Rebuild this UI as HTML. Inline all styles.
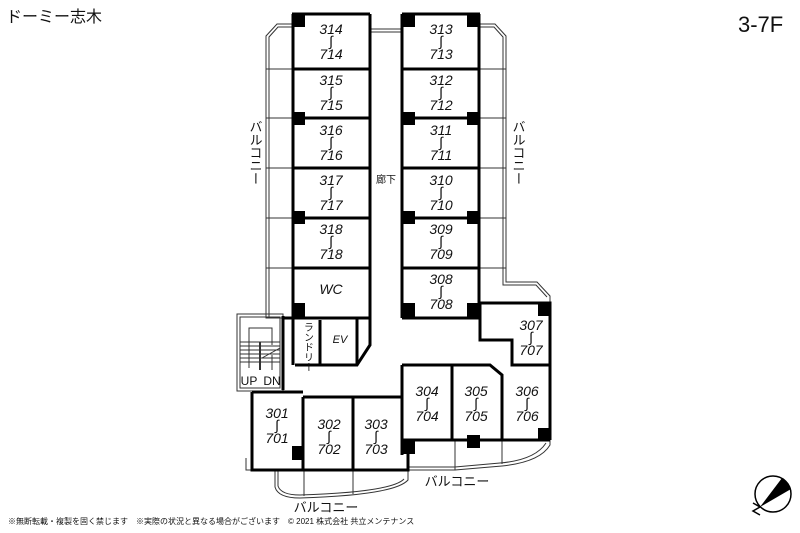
<!DOCTYPE html>
<html><head><meta charset="utf-8"><style>
html,body{margin:0;padding:0;background:#fff;}
svg{display:block;}
text{font-family:"Liberation Sans","Noto Sans CJK JP",sans-serif;fill:#111;}
.n{font-size:14px;font-style:italic;text-anchor:middle;}
.t{font-size:11px;text-anchor:middle;}
</style></head><body>
<svg width="800" height="533" viewBox="0 0 800 533" xmlns="http://www.w3.org/2000/svg">
<text x="6" y="22" style="font-size:16px">ドーミー志木</text>
<text x="738" y="32" style="font-size:22px">3-7F</text>

<g fill="none" stroke="#333" stroke-width="1">
<path d="M370 29 L402 29 M370 32 L402 32"/>
<!-- left balcony -->
<path d="M292 24 L277 24 L266 36 L266 318 L292 318"/>
<path d="M292 27 L278 27 L269 37 L269 318"/>
<line x1="266" y1="69" x2="292" y2="69"/><line x1="266" y1="118" x2="292" y2="118"/>
<line x1="266" y1="168" x2="292" y2="168"/><line x1="266" y1="218" x2="292" y2="218"/>
<line x1="266" y1="268" x2="292" y2="268"/>
<!-- right balcony -->
<path d="M480 24 L495 24 L506 36 L506 282 L537 282 L550 296 L550 303"/>
<path d="M480 27 L494 27 L503 37 L503 285 L536 285 L547 297"/>
<line x1="480" y1="69" x2="506" y2="69"/><line x1="480" y1="118" x2="506" y2="118"/>
<line x1="480" y1="168" x2="506" y2="168"/><line x1="480" y1="218" x2="506" y2="218"/>
<line x1="480" y1="268" x2="506" y2="268"/>
<!-- stairs -->
<rect x="237" y="314" width="46" height="77" />
<rect x="240" y="317" width="40" height="71" />
<path d="M249 368 L249 328 L272 328 L272 345"/>
<path d="M240 342 L280 342 M240 346 L280 346 M240 350 L280 350 M240 354 L280 354 M240 358 L280 358 M240 362 L280 362"/>
<line x1="260" y1="342" x2="260" y2="370" stroke-width="2"/>
<line x1="262" y1="358" x2="280" y2="348"/>
<line x1="272" y1="355" x2="272" y2="370"/>
<!-- bottom balconies -->
<path d="M275 470 L275 487 Q278 498 300 498 Q395 495 408 480 L408 470"/>
<path d="M278 470 L278 486 Q281 495 300 495 Q392 492 404 479"/>
<line x1="304" y1="470" x2="304" y2="496"/><line x1="353" y1="470" x2="353" y2="494"/>
<path d="M408 464 L408 470 L455 470 L455 464 M455 470 L502 466 Q540 462 550 445 L550 440"/>
<path d="M408 467 L455 467 M455 467 L500 463 Q535 460 546 443"/>
<line x1="502" y1="440" x2="502" y2="464"/><line x1="455" y1="440" x2="455" y2="467"/>
<path d="M246 458 L246 470 L268 470"/>
</g>

<!-- walls -->
<g fill="none" stroke="#000" stroke-width="3">
<path d="M292 14 L370 14 M402 14 L480 14"/>
<line x1="370" y1="14" x2="370" y2="318"/>
<line x1="402" y1="14" x2="402" y2="318"/>
<line x1="293" y1="14" x2="293" y2="365"/>
<line x1="479" y1="14" x2="479" y2="318"/>
<path d="M293 69 L370 69 M293 118 L370 118 M293 168 L370 168 M293 218 L370 218 M293 268 L370 268"/>
<path d="M402 69 L479 69 M402 118 L479 118 M402 168 L479 168 M402 218 L479 218 M402 268 L479 268"/>
<path d="M282 318 L370 318 M402 318 L480 318"/>
<path d="M480 303 L550 303 L550 440"/>
<path d="M480 303 L480 340 L512 340 L512 365 L550 365"/>
<path d="M370 318 L370 345 L357 365 L295 365 M320 320 L320 365 M357 318 L357 365"/>
<path d="M402 365 L490 365 L502 375 L502 440 M452 365 L452 440 M402 365 L402 455 M402 440 L550 440"/>
<path d="M252 392 L252 470 L303 470 L408 470 L408 440 M303 397 L303 470 M353 397 L353 470 M303 397 L402 397 M252 392 L303 392"/>
<path d="M283 316 L283 390"/>
</g>
<g fill="#000">
<rect x="292" y="14" width="13" height="13"/><rect x="402" y="14" width="13" height="13"/><rect x="467" y="14" width="13" height="13"/>
<rect x="292" y="112" width="13" height="13"/><rect x="402" y="112" width="13" height="13"/><rect x="467" y="112" width="13" height="13"/>
<rect x="292" y="211" width="13" height="13"/><rect x="402" y="211" width="13" height="13"/><rect x="467" y="211" width="13" height="13"/>
<rect x="292" y="303" width="13" height="14"/><rect x="402" y="303" width="13" height="14"/><rect x="467" y="303" width="13" height="14"/>
<rect x="538" y="303" width="12" height="13"/><rect x="538" y="428" width="12" height="13"/>
<rect x="467" y="435" width="13" height="13"/><rect x="402" y="440" width="13" height="14"/>
<rect x="292" y="446" width="11" height="14"/>
</g>

<g class="n">
<text x="331" y="34">314</text><text x="331" y="46">∫</text><text x="331" y="59">714</text>
<text x="331" y="85">315</text><text x="331" y="97">∫</text><text x="331" y="110">715</text>
<text x="331" y="135">316</text><text x="331" y="147">∫</text><text x="331" y="160">716</text>
<text x="331" y="185">317</text><text x="331" y="197">∫</text><text x="331" y="210">717</text>
<text x="331" y="234">318</text><text x="331" y="246">∫</text><text x="331" y="259">718</text>
<text x="331" y="294">WC</text>
<text x="441" y="34">313</text><text x="441" y="46">∫</text><text x="441" y="59">713</text>
<text x="441" y="85">312</text><text x="441" y="97">∫</text><text x="441" y="110">712</text>
<text x="441" y="135">311</text><text x="441" y="147">∫</text><text x="441" y="160">711</text>
<text x="441" y="185">310</text><text x="441" y="197">∫</text><text x="441" y="210">710</text>
<text x="441" y="234">309</text><text x="441" y="246">∫</text><text x="441" y="259">709</text>
<text x="441" y="284">308</text><text x="441" y="296">∫</text><text x="441" y="309">708</text>
<text x="531" y="330">307</text><text x="531" y="342">∫</text><text x="531" y="355">707</text>
<text x="427" y="396">304</text><text x="427" y="408">∫</text><text x="427" y="421">704</text>
<text x="476" y="396">305</text><text x="476" y="408">∫</text><text x="476" y="421">705</text>
<text x="527" y="396">306</text><text x="527" y="408">∫</text><text x="527" y="421">706</text>
<text x="277" y="418">301</text><text x="277" y="430">∫</text><text x="277" y="443">701</text>
<text x="329" y="429">302</text><text x="329" y="441">∫</text><text x="329" y="454">702</text>
<text x="376" y="429">303</text><text x="376" y="441">∫</text><text x="376" y="454">703</text>
<text x="340" y="343" style="font-size:11px">EV</text>
</g>
<text x="386" y="183" style="font-size:10px;text-anchor:middle">廊下</text>
<text x="307" y="322" style="font-size:10px;writing-mode:tb">ランドリー</text>
<text x="249" y="385" style="font-size:12px;text-anchor:middle">UP</text>
<text x="272" y="385" style="font-size:12px;text-anchor:middle">DN</text>
<text x="255" y="120" style="font-size:13px;writing-mode:tb">バルコニー</text>
<text x="518" y="120" style="font-size:13px;writing-mode:tb">バルコニー</text>
<text x="457" y="486" class="t" style="font-size:13px">バルコニー</text>
<text x="326" y="512" class="t" style="font-size:13px">バルコニー</text>
<text x="8" y="524" style="font-size:8px">※無断転載・複製を固く禁じます　※実際の状況と異なる場合がございます　© 2021 株式会社 共立メンテナンス</text>

<circle cx="773" cy="494" r="18" fill="none" stroke="#000" stroke-width="1.5"/>
<path d="M760 507 L782 478 Q789 482 791 489 Z" fill="#000"/>
<path d="M753 503 L760 507 L753 511 L760 515" fill="none" stroke="#000" stroke-width="1.5"/>
</svg>
</body></html>
